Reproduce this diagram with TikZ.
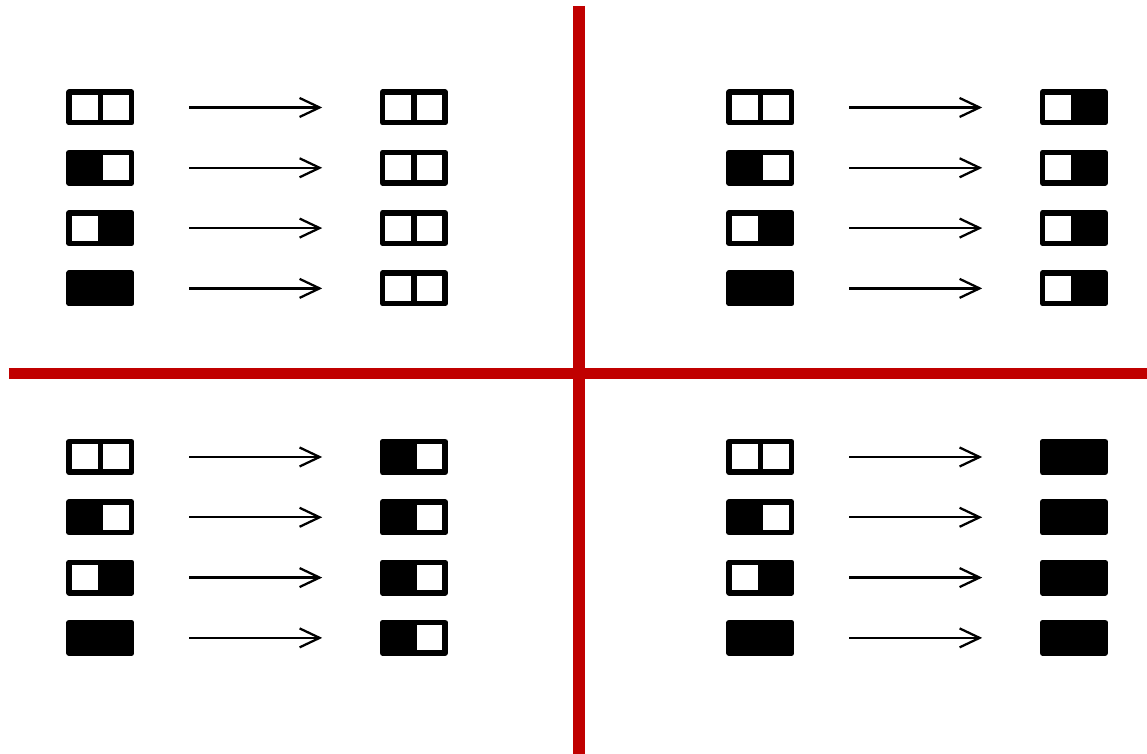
\documentclass[tikz,border=0pt]{standalone}
\usepackage{tikz}
\usetikzlibrary{arrows.meta}
\definecolor{divred}{HTML}{C00000}

\begin{document}
\begin{tikzpicture}[
	cell/.style={draw, line width=0.11cm, line join=round, minimum width=0.625cm, minimum height=0.61cm, inner sep=0pt, outer sep=0pt},
	on/.style={fill=black},
	off/.style={fill=white},
	maps/.style={-{Straight Barb[length=0.4cm,width=0.38cm]}, line width=0.045cm, shorten <=1.15cm, shorten >=1.21cm}]
	\useasboundingbox (0,0) rectangle (22.94,15.08);
	% quadrant dividers
	\draw[divred, line width=0.23cm] (11.58,14.96) -- (11.58,0);
	\draw[divred, line width=0.23cm] (0.18,7.61) -- (22.94,7.61);
	% one quadrant per result, four inputs each
	\foreach \dx/\dy/\ra/\rb [count=\qd] in {0/0/off/off, 13.2/0/off/on, 0/-6.99/on/off, 13.2/-6.99/on/on} {
		\foreach \a/\b [count=\rw] in {off/off, on/off, off/on, on/on} {
			\node[cell, \a] (in-\qd-\rw-a) at ({1.697+\dx},{12.93+\dy-1.206*(\rw-1)}) {};
			\node[cell, \b, anchor=west] (in-\qd-\rw-b) at (in-\qd-\rw-a.east) {};
			\node[cell, \ra] (out-\qd-\rw-a) at ({7.967+\dx},{12.93+\dy-1.206*(\rw-1)}) {};
			\node[cell, \rb, anchor=west] (out-\qd-\rw-b) at (out-\qd-\rw-a.east) {};
			\draw[maps] (in-\qd-\rw-b.east) -- (out-\qd-\rw-a.west);
		}
	}
\end{tikzpicture}
\end{document}
